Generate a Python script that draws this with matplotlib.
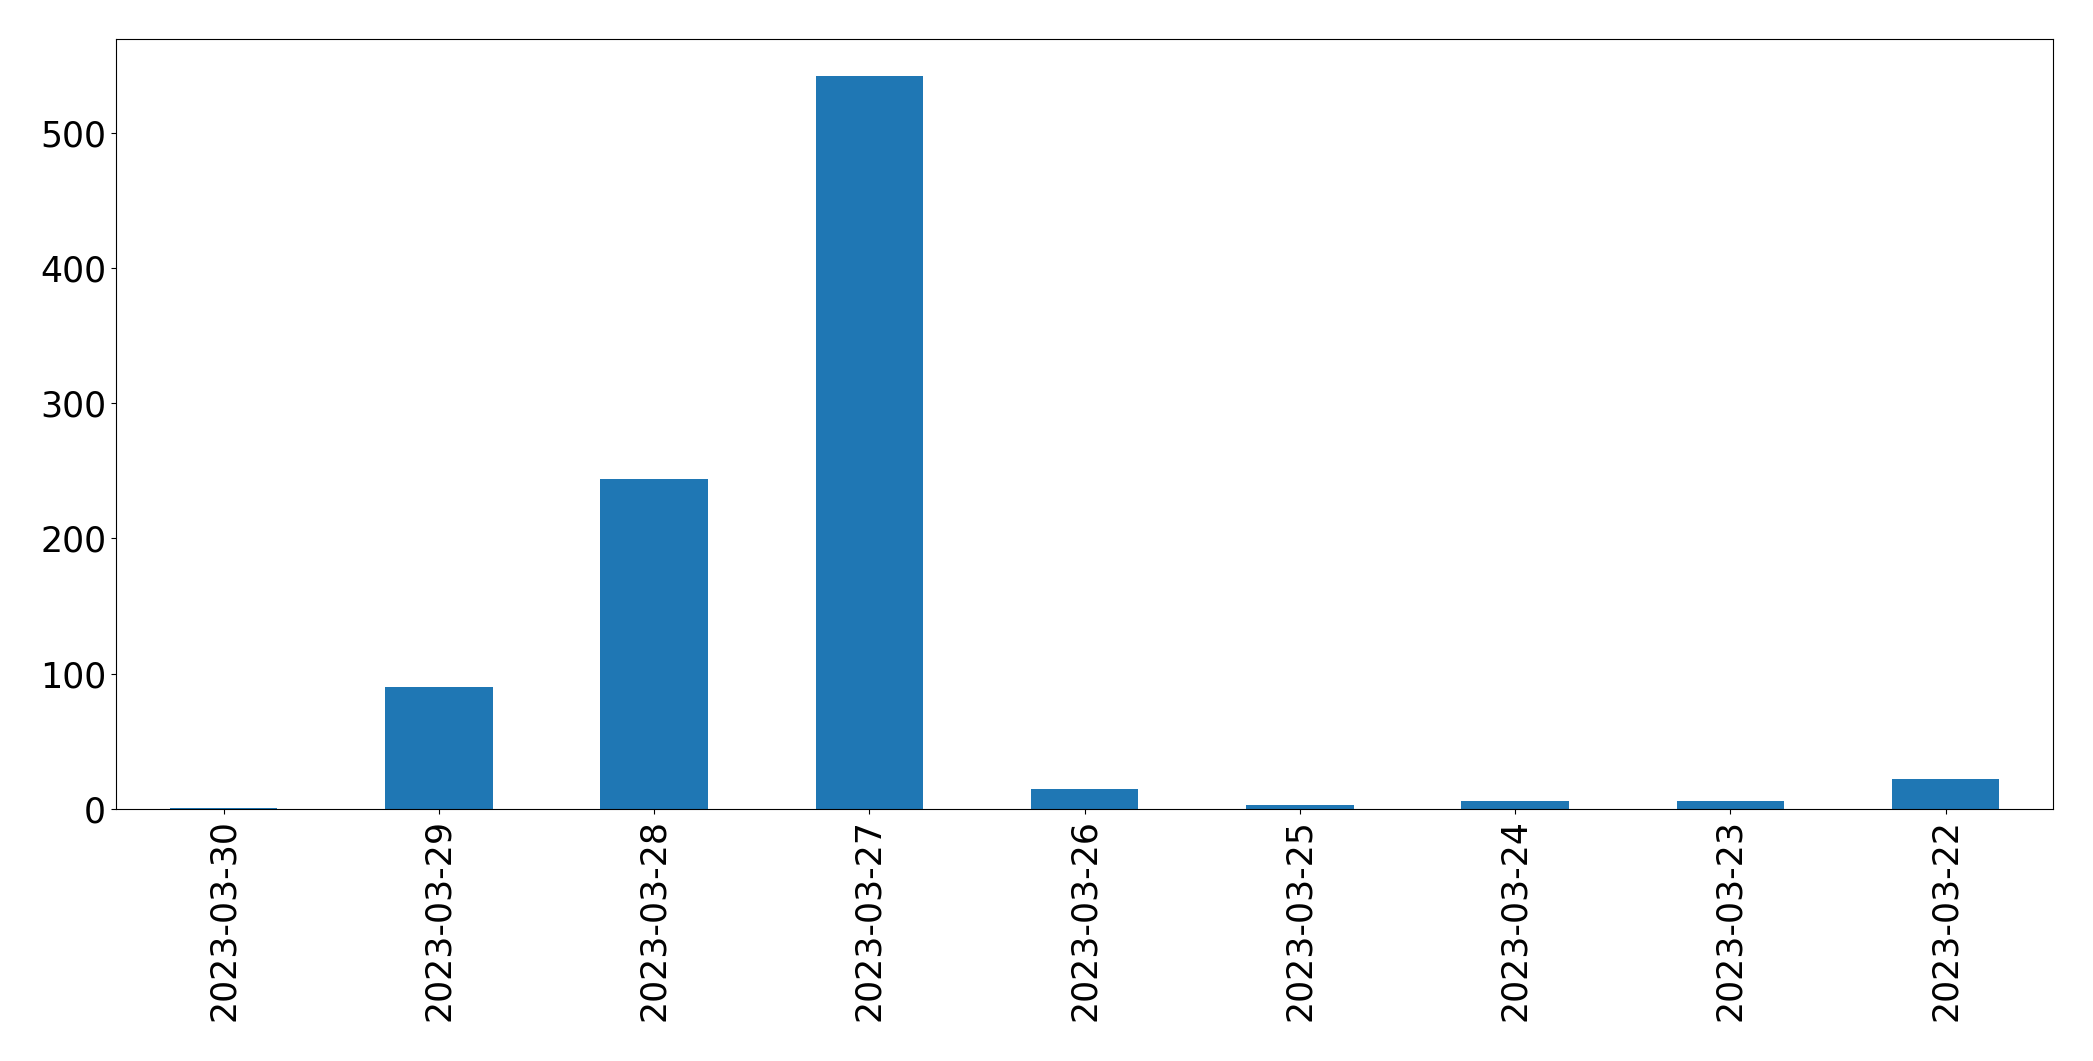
import pandas as pd
import matplotlib.pyplot as plt

# Data
dates = ['2023-03-30', '2023-03-29', '2023-03-28', '2023-03-27', '2023-03-26',
         '2023-03-25', '2023-03-24', '2023-03-23', '2023-03-22']
counts = [1, 90, 244, 542, 15, 3, 6, 6, 22]

data = pd.Series(counts, index=dates)

fig = plt.figure(figsize=(20.93, 10.61), dpi=100)
ax = fig.add_axes([0.0554, 0.2375, 0.9256, 0.7255])
data.plot(kind='bar', ax=ax, color='#1f77b4', width=0.5)
ax.tick_params(axis='both', labelsize=25)
plt.setp(ax.get_xticklabels(), rotation=90)

fig.savefig('out.png', dpi=100)
